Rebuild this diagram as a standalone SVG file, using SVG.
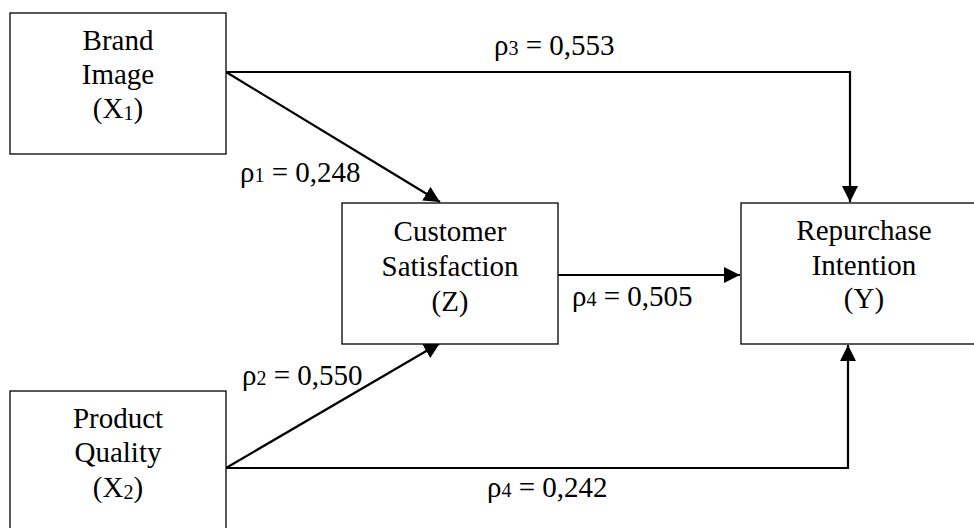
<svg xmlns="http://www.w3.org/2000/svg" width="974" height="528" viewBox="0 0 974 528">
<style>
.box{fill:#fff;stroke:#000;stroke-width:1.3}
.t{font-family:"Liberation Serif","Times New Roman",serif;font-size:29px;fill:#000}
.c{text-anchor:middle}
.s{font-size:20px}
.ln{fill:none;stroke:#000;stroke-width:2.2}
</style>
<defs>
<marker id="ah" markerUnits="userSpaceOnUse" markerWidth="17" markerHeight="17" viewBox="0 0 17 17" refX="16" refY="8.5" orient="auto">
<path d="M0,0.5 L16,8.5 L0,16.5 Z" fill="#000"/>
</marker>
</defs>
<rect width="974" height="528" fill="#fff"/>
<g id="connectors">
<polyline class="ln" points="226,72 850,72 850,202" marker-end="url(#ah)"/>
<line class="ln" x1="226" y1="72" x2="440" y2="202" marker-end="url(#ah)"/>
<line class="ln" x1="226" y1="468" x2="440" y2="343" marker-end="url(#ah)"/>
<polyline class="ln" points="226,468 848,468 848,345" marker-end="url(#ah)"/>
<line class="ln" x1="558" y1="275" x2="740" y2="275" marker-end="url(#ah)"/>
</g>
<g id="brand-image">
<rect class="box" x="10" y="13" width="216" height="141"/>
<text class="t c" x="118" y="50">Brand</text>
<text class="t c" x="118" y="84">Image</text>
<text class="t c" x="118" y="118">(X<tspan class="s" dy="2">1</tspan><tspan dy="-2">)</tspan></text>
</g>
<g id="product-quality">
<rect class="box" x="10" y="391" width="216" height="150"/>
<text class="t c" x="118" y="428">Product</text>
<text class="t c" x="118" y="462">Quality</text>
<text class="t c" x="118" y="497">(X<tspan class="s" dy="2">2</tspan><tspan dy="-2">)</tspan></text>
</g>
<g id="customer-satisfaction">
<rect class="box" x="342" y="203" width="216" height="141"/>
<text class="t c" x="450" y="241">Customer</text>
<text class="t c" x="450" y="276">Satisfaction</text>
<text class="t c" x="450" y="311">(Z)</text>
</g>
<g id="repurchase-intention">
<rect class="box" x="741" y="203" width="250" height="141"/>
<text class="t c" x="864" y="240">Repurchase</text>
<text class="t c" x="864" y="275">Intention</text>
<text class="t c" x="864" y="308">(Y)</text>
</g>
<g id="labels">
<text class="t" x="494" y="55">ρ<tspan class="s">3</tspan> = 0,553</text>
<text class="t" x="240" y="182">ρ<tspan class="s">1</tspan> = 0,248</text>
<text class="t" x="572" y="306">ρ<tspan class="s">4</tspan> = 0,505</text>
<text class="t" x="242" y="385">ρ<tspan class="s">2</tspan> = 0,550</text>
<text class="t" x="487" y="497">ρ<tspan class="s">4</tspan> = 0,242</text>
</g>
</svg>
